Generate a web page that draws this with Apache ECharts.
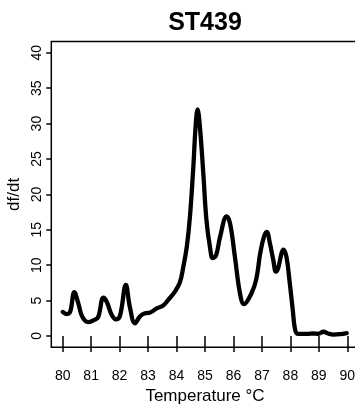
<!DOCTYPE html>
<html>
<head>
<meta charset="utf-8">
<script src="https://cdn.jsdelivr.net/npm/echarts@6/dist/echarts.min.js"></script>
<style>html,body{margin:0;padding:0;background:#fff;overflow:hidden;width:355px;height:406px;}#c{width:370px;height:406px;}</style>
</head>
<body>
<div id="c"></div>
<script>
var temperature = [80.00,80.14,80.26,80.41,80.55,80.69,80.90,81.13,81.25,81.43,81.55,81.72,81.87,82.01,82.22,82.36,82.54,82.72,82.89,83.07,83.30,83.53,83.71,83.95,84.12,84.24,84.36,84.47,84.59,84.67,84.74,84.82,84.94,85.05,85.18,85.27,85.39,85.53,85.76,85.88,86.05,86.23,86.37,86.63,86.80,86.94,87.07,87.17,87.28,87.40,87.49,87.57,87.69,87.75,87.86,87.98,88.08,88.16,88.25,88.40,88.60,88.80,88.98,89.16,89.33,89.51,89.74,89.98];
var dfdt = [3.4,3.1,3.4,6.2,4.6,2.7,1.95,2.3,2.7,5.4,4.8,3.0,2.35,2.8,7.2,4.1,1.8,2.8,3.2,3.3,3.9,4.3,5.1,6.3,7.6,9.8,12.6,16.8,23.9,29.6,32.0,29.6,23.0,16.4,12.4,11.0,11.4,14.0,16.9,15.9,11.2,6.0,4.5,6.0,8.0,11.7,14.0,14.7,13.1,10.7,9.1,9.6,11.7,12.2,11.2,7.4,3.8,1.0,0.3,0.3,0.3,0.35,0.3,0.6,0.35,0.2,0.25,0.4];
var xTicks = [80,81,82,83,84,85,86,87,88,89,90];
var yTicks = [0,5,10,15,20,25,30,35,40];
var titleText = 'ST439';
var xName = 'Temperature \u00b0C';
var yName = 'df/dt';

var data = temperature.map(function(t,i){return [t, dfdt[i]];});
var font = 'Liberation Sans, Arial, Helvetica, sans-serif';
var chart = echarts.init(document.getElementById('c'), null, {renderer:'canvas'});
chart.setOption({
  animation:false,
  backgroundColor:'#fff',
  title:{text:titleText,left:205,top:10.5,padding:0,textAlign:'center',
    textStyle:{fontFamily:font,fontSize:25,fontWeight:'bold',color:'#000'}},
  grid:{left:51.3,top:41.5,width:307.4,height:305.8,outerBoundsMode:'none',containLabel:false,show:true,borderColor:'#000',borderWidth:1.5,backgroundColor:'transparent'},
  xAxis:{type:'value',min:79.6,max:90.4,
    name:xName,nameLocation:'middle',nameGap:40,
    nameTextStyle:{fontFamily:font,fontSize:17,color:'#000'},
    axisLine:{show:false},
    splitLine:{show:false},
    axisTick:{show:true,inside:false,length:16,customValues:xTicks,lineStyle:{color:'#000',width:1.5}},
    axisLabel:{customValues:xTicks,margin:22,fontFamily:font,fontSize:14,color:'#000'}},
  yAxis:{type:'value',min:-1.6,max:41.6,
    name:yName,nameLocation:'middle',nameGap:24,nameRotate:90,
    nameTextStyle:{fontFamily:font,fontSize:17,color:'#000'},
    axisLine:{show:false},
    splitLine:{show:false},
    axisTick:{show:true,inside:false,length:5,customValues:yTicks,lineStyle:{color:'#000',width:1.5}},
    axisLabel:{customValues:yTicks,rotate:90,margin:7,fontFamily:font,fontSize:14,color:'#000'}},
  series:[{type:'line',data:data,smooth:0.4,symbol:'none',
    lineStyle:{color:'#000',width:4.3,join:'round',cap:'round'}}]
});
</script>
</body>
</html>
